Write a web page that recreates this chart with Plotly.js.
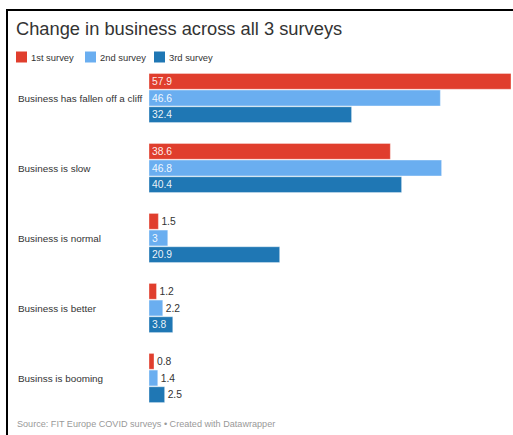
<!DOCTYPE html>
<html>
<head>
<meta charset="utf-8">
<script src="https://cdn.plot.ly/plotly-3.0.1.min.js"></script>
<style>
html,body{margin:0;padding:0;background:#fff;}
#wrap{position:relative;width:513px;height:435px;overflow:hidden;}
#chart{position:absolute;left:0;top:0;width:513px;height:435px;}
#frame{position:absolute;left:6px;top:9px;width:600px;height:600px;border-left:2px solid #000;border-top:2px solid #000;pointer-events:none;}
</style>
</head>
<body>
<div id="wrap"><div id="chart"></div><div id="frame"></div></div>
<script>
const categories = ["Business has fallen off a cliff", "Business is slow", "Business is normal", "Business is better", "Businss is booming"];
const seriesNames = ["1st survey", "2nd survey", "3rd survey"];
const survey1 = [57.9, 38.6, 1.5, 1.2, 0.8];
const survey2 = [46.6, 46.8, 3, 2.2, 1.4];
const survey3 = [32.4, 40.4, 20.9, 3.8, 2.5];
const colors = ["#e03e2d", "#6aaef0", "#1f77b4"];

const FONT = "'Liberation Sans', Arial, sans-serif";
const W = 513, H = 435;
const M = {l: 149, r: 2, t: 63, b: 22};
const PW = W - M.l - M.r, PH = H - M.t - M.b;
const px = x => (x - M.l) / PW;
const py = y => (H - M.b - y) / PH;

const allSeries = [survey1, survey2, survey3];
const traces = allSeries.map((vals, i) => ({
  type: 'bar',
  orientation: 'h',
  name: seriesNames[i],
  y: categories,
  x: vals,
  text: vals.map(v => String(v)),
  textposition: vals.map(v => v >= 3 ? 'inside' : 'outside'),
  insidetextanchor: 'start',
  textangle: 0,
  constraintext: 'none',
  cliponaxis: false,
  insidetextfont: {family: FONT, size: 10.3, color: 'rgba(255,255,255,0.92)'},
  outsidetextfont: {family: FONT, size: 10.3, color: '#333'},
  marker: {color: colors[i], line: {color: 'rgba(255,255,255,0.35)', width: 1}},
  hoverinfo: 'skip'
}));

const annotations = [];
const shapes = [];
// category labels
categories.forEach(c => {
  annotations.push({
    xref: 'paper', yref: 'y', x: px(16), y: c, xanchor: 'left', yanchor: 'middle',
    text: c, showarrow: false, font: {family: FONT, size: 9.9, color: '#333'}
  });
});
// legend
const legendX = [16, 85, 154];
seriesNames.forEach((n, i) => {
  const x0 = legendX[i];
  shapes.push({
    type: 'rect', xref: 'paper', yref: 'paper',
    x0: px(x0), x1: px(x0 + 11), y0: py(62.5), y1: py(51.5),
    fillcolor: colors[i], line: {width: 0}
  });
  annotations.push({
    xref: 'paper', yref: 'paper', x: px(x0 + 13), y: py(57), xanchor: 'left', yanchor: 'middle',
    text: n, showarrow: false, font: {family: FONT, size: 9.4, color: '#333'}
  });
});
// source
annotations.push({
  xref: 'paper', yref: 'paper', x: px(15), y: py(424), xanchor: 'left', yanchor: 'middle',
  text: "Source: FIT Europe COVID surveys • Created with Datawrapper", showarrow: false,
  font: {family: FONT, size: 9.1, color: '#999'}
});

const layout = {
  width: W, height: H,
  margin: M,
  paper_bgcolor: '#fff', plot_bgcolor: '#fff',
  showlegend: false,
  barmode: 'group',
  bargap: 0.286,
  bargroupgap: 0.05,
  title: {
    text: "Change in business across all 3 surveys",
    xref: 'container', yref: 'container',
    x: 16 / W, xanchor: 'left',
    y: 1 - 29 / H, yanchor: 'middle',
    font: {family: FONT, size: 18.3, color: '#333'}
  },
  xaxis: {range: [0, 57.9], visible: false, fixedrange: true},
  yaxis: {autorange: 'reversed', type: 'category', showticklabels: false, showgrid: false, zeroline: false, showline: false, ticks: '', fixedrange: true},
  annotations: annotations,
  shapes: shapes,
  font: {family: FONT}
};

Plotly.newPlot('chart', traces, layout, {displayModeBar: false, staticPlot: true});
</script>
</body>
</html>
